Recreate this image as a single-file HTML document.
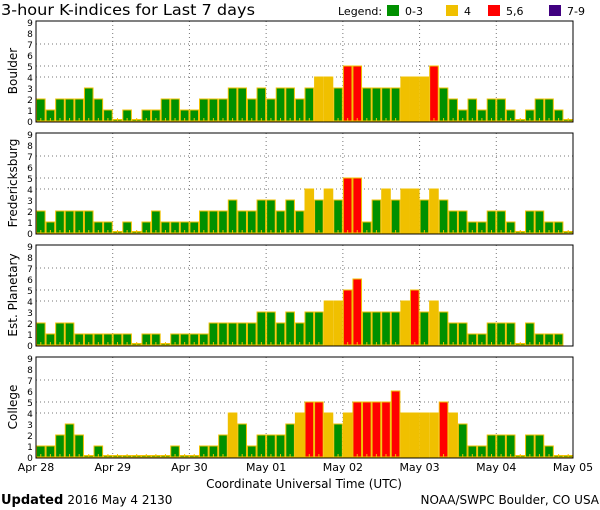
<!DOCTYPE html>
<html><head><meta charset="utf-8"><style>
html,body{margin:0;padding:0;background:#fff;width:600px;height:510px;overflow:hidden}
svg{display:block}
text{font-family:"DejaVu Sans","Liberation Sans",sans-serif}
</style></head><body>
<svg id="s" width="600" height="510" xmlns="http://www.w3.org/2000/svg"></svg>
<script>
const D=[
["Boulder",[2,1,2,2,2,3,2,1,0,1,0,1,1,2,2,1,1,2,2,2,3,3,2,3,2,3,3,2,3,4,4,3,5,5,3,3,3,3,4,4,4,5,3,2,1,2,1,2,2,1,0,1,2,2,1,0]],
["Fredericksburg",[2,1,2,2,2,2,1,1,0,1,0,1,2,1,1,1,1,2,2,2,3,2,2,3,3,2,3,2,4,3,4,3,5,5,1,3,4,3,4,4,3,4,3,2,2,1,1,2,2,1,0,2,2,1,1,0]],
["Est. Planetary",[2,1,2,2,1,1,1,1,1,1,0,1,1,0,1,1,1,1,2,2,2,2,2,3,3,2,3,2,3,3,4,4,5,6,3,3,3,3,4,5,3,4,3,2,2,1,1,2,2,2,0,2,1,1,1,null]],
["College",[1,1,2,3,2,0,1,0,0,0,0,0,0,0,1,0,0,1,1,2,4,3,1,2,2,2,3,4,5,5,4,3,4,5,5,5,5,6,4,4,4,4,5,4,3,1,1,2,2,2,0,2,2,1,0,0]]];
const X0=36,X1=573,W=(X1-X0)/56,U=11;
let h='';
h+='<text x="1" y="15" font-size="15" textLength="254" lengthAdjust="spacingAndGlyphs">3-hour K-indices for Last 7 days</text>';
h+='<text x="338" y="15" font-size="11">Legend:</text>';
[[387,'#009000','0-3'],[446,'#f0c000','4'],[488,'#ff0000','5,6'],[549,'#400080','7-9']].forEach(([x,c,t])=>{
 h+=`<rect x="${x}" y="5" width="12" height="11" fill="${c}"/><text x="${x+18}" y="15" font-size="11">${t}</text>`;});
D.forEach(([name,v],p)=>{
 const top=21+112*p, base=top+100;
 [4,5,7].forEach(k=>{const y=base-k*U;h+=`<line x1="${X0}" x2="${X1}" y1="${y}" y2="${y}" stroke="#777" stroke-dasharray="1,3"/>`;});
 for(let d=1;d<7;d++){const x=X0+d*8*W;h+=`<line x1="${x}" x2="${x}" y1="${top}" y2="${base}" stroke="#777" stroke-dasharray="1,3"/>`;}
 v.forEach((k,i)=>{if(k===null)return;const x=X0+i*W;const c=k>=7?'#400080':k>=5?'#ff0000':k==4?'#f0c000':'#009000';
  const hh=k==0?1.5:k*U;
  h+=`<rect x="${x+0.5}" y="${base-hh}" width="${W-1}" height="${hh}" fill="${c}" stroke="#f0c000" stroke-width="1"/>`;
  h+=`<line x1="${x+W/2}" x2="${x+W/2}" y1="${base-3}" y2="${base}" stroke="#f0c000"/>`;});
 h+=`<rect x="${X0}" y="${top}" width="${X1-X0}" height="${base-top+1}" fill="none" stroke="#000" stroke-width="1"/>`;
 for(let k=0;k<=9;k++)h+=`<text x="30" y="${base-k*U+4}" font-size="9" text-anchor="middle">${k}</text>`;
 h+=`<text transform="translate(17,${top+50}) rotate(-90)" font-size="12" text-anchor="middle">${name}</text>`;
});
["Apr 28","Apr 29","Apr 30","May 01","May 02","May 03","May 04","May 05"].forEach((t,d)=>{
 h+=`<text x="${X0+d*8*W}" y="471" font-size="11" text-anchor="middle">${t}</text>`;});
h+='<text x="304" y="488" font-size="12" text-anchor="middle">Coordinate Universal Time (UTC)</text>';
h+='<text x="1" y="504" font-size="13" font-family="Liberation Serif,serif"><tspan font-weight="bold">Updated</tspan> <tspan font-family="DejaVu Sans,sans-serif" font-size="12">2016 May  4 2130</tspan></text>';
h+='<text x="599" y="504" font-size="12" text-anchor="end">NOAA/SWPC Boulder, CO USA</text>';
document.getElementById('s').innerHTML=h;
</script>
</body></html>
